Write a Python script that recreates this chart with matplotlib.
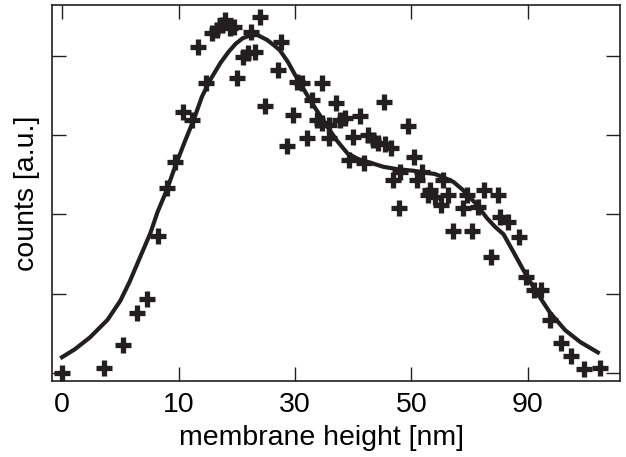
import matplotlib
matplotlib.use("Agg")
import matplotlib.pyplot as plt

plt.rcParams['font.family'] = ['Liberation Sans', 'DejaVu Sans']

# tick positions and their (uneven) labels
tick_pos = [0, 1, 2, 3, 4]
tick_labels = ["0", "10", "30", "50", "90"]
ytick_pos = [0, 1, 2, 3, 4]

# measured counts
meas_x = [0.00, 0.36, 0.52, 0.64, 0.73, 0.82, 0.90, 0.97, 1.04, 1.12,
          1.17, 1.24, 1.29, 1.33, 1.37, 1.40, 1.44, 1.48, 1.50, 1.55,
          1.60, 1.62, 1.66, 1.70, 1.74, 1.85, 1.88, 1.93, 1.98, 2.02,
          2.06, 2.10, 2.15, 2.19, 2.23, 2.23, 2.29, 2.29, 2.35, 2.39,
          2.43, 2.46, 2.50, 2.56, 2.59, 2.63, 2.67, 2.71, 2.76, 2.77,
          2.82, 2.84, 2.89, 2.90, 2.97, 3.02, 3.05, 3.09, 3.14, 3.16,
          3.20, 3.25, 3.27, 3.31, 3.36, 3.44, 3.48, 3.52, 3.57, 3.62,
          3.68, 3.74, 3.76, 3.83, 3.92, 3.98, 4.05, 4.11, 4.19, 4.28,
          4.37, 4.48, 4.62]
meas_y = [0.00, 0.06, 0.35, 0.76, 0.93, 1.73, 2.33, 2.66, 3.29, 3.19,
          4.11, 3.66, 4.29, 4.33, 4.39, 4.45, 4.35, 4.36, 3.72, 3.98,
          4.04, 4.30, 4.05, 4.49, 3.37, 3.82, 4.17, 2.86, 3.25, 3.67,
          3.66, 2.96, 3.44, 3.19, 3.66, 3.15, 3.13, 2.96, 3.40, 3.19,
          3.22, 2.69, 2.98, 3.24, 2.65, 3.00, 2.94, 2.90, 3.42, 2.89,
          2.84, 2.43, 2.08, 2.53, 3.11, 2.72, 2.43, 2.53, 2.24, 2.31,
          2.22, 2.12, 2.43, 2.24, 1.79, 2.08, 2.24, 1.79, 2.09, 2.31,
          1.46, 2.24, 1.97, 1.90, 1.71, 1.21, 1.05, 1.05, 0.67, 0.38,
          0.21, 0.05, 0.06]

# fitted curve
fit_x = [0.00, 0.11, 0.24, 0.39, 0.50, 0.58, 0.67, 0.76, 0.82, 0.90,
         0.97, 1.06, 1.13, 1.20, 1.27, 1.36, 1.43, 1.49, 1.55, 1.62,
         1.68, 1.76, 1.83, 1.87, 1.94, 2.00, 2.07, 2.13, 2.20, 2.28,
         2.36, 2.45, 2.54, 2.65, 2.76, 2.88, 3.02, 3.10, 3.20, 3.27,
         3.36, 3.44, 3.55, 3.65, 3.72, 3.79, 3.87, 3.96, 4.06, 4.19,
         4.32, 4.45, 4.60]
fit_y = [0.20, 0.30, 0.45, 0.67, 0.91, 1.15, 1.46, 1.77, 2.03, 2.31,
         2.60, 2.94, 3.19, 3.48, 3.69, 3.91, 4.05, 4.15, 4.22, 4.26,
         4.26, 4.20, 4.12, 4.07, 3.92, 3.76, 3.59, 3.44, 3.28, 3.10,
         2.93, 2.77, 2.70, 2.65, 2.60, 2.57, 2.55, 2.53, 2.51, 2.47,
         2.41, 2.31, 2.14, 1.95, 1.84, 1.75, 1.54, 1.30, 1.05, 0.76,
         0.54, 0.39, 0.26]

ink = '#231f20'

fig = plt.figure(figsize=(6.26, 4.57), dpi=100)
ax = fig.add_axes([52/626, 76/457, 568/626, 376/457])

ax.plot(fit_x, fit_y, color=ink, lw=3, zorder=2)
ax.plot(meas_x, meas_y, ls='none', marker='+', ms=12, mew=3.8,
        color=ink, zorder=3)

ax.set_xlim(-0.086, 4.79)
ax.set_ylim(-0.10, 4.64)
ax.set_xticks(tick_pos)
ax.set_xticklabels(tick_labels)
ax.set_yticks(ytick_pos)
ax.set_yticklabels([])
ax.tick_params(direction='in', length=10, width=1, color=ink,
               top=True, right=True, labelsize=20.5, pad=8)
for s in ax.spines.values():
    s.set_linewidth(1.2)
    s.set_color(ink)

ax.set_xlabel("membrane height [nm]", fontsize=20.5, labelpad=5)
ax.xaxis.label.set_x(0.474)
ax.set_ylabel("counts [a.u.]", fontsize=20.5, labelpad=1)

fig.savefig("out.png", dpi=100)
